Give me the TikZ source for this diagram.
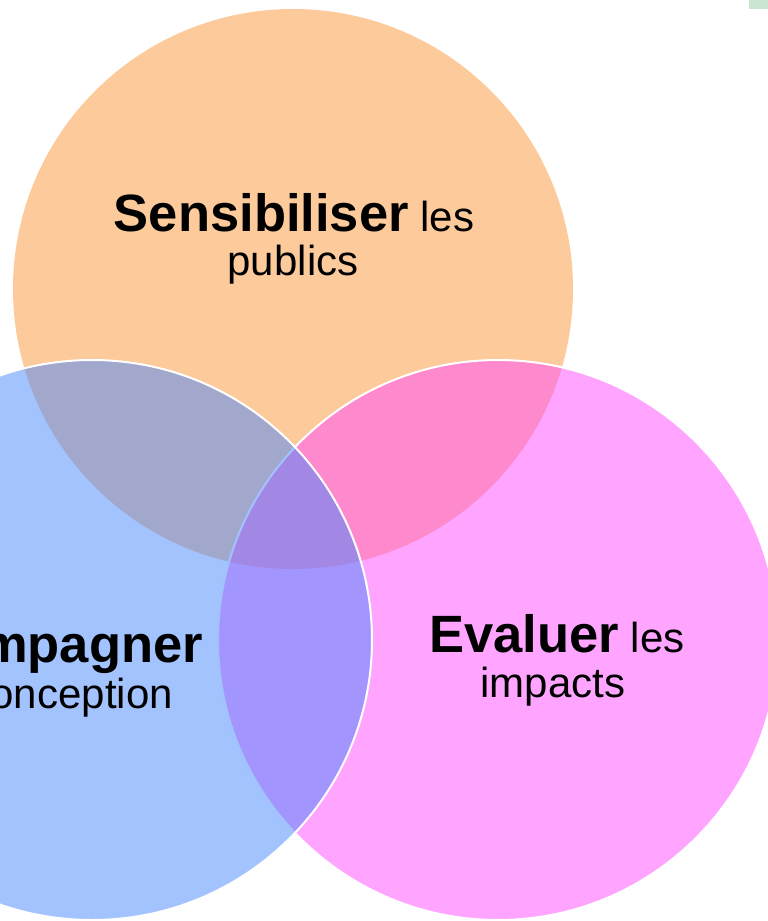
\documentclass[tikz,border=0pt]{standalone}
\usepackage{fontspec}
\setmainfont{Liberation Sans}
\newcommand{\bigtxt}{\fontsize{52.5}{52}\selectfont\bfseries}
\newcommand{\smalltxt}{\fontsize{42}{42}\selectfont}
\begin{document}
\begin{tikzpicture}[x=1pt,y=-1pt,
  disc/.style={draw=white,line width=2pt,fill opacity=0.5},
  bigword/.style={font=\bigtxt,inner sep=0pt,anchor=base},
  smallword/.style={font=\smalltxt,inner sep=0pt,anchor=base},
  mixline/.style={inner sep=0pt,anchor=base}]
\definecolor{peach}{RGB}{253,202,156}
\definecolor{rose}{RGB}{255,73,255}
\definecolor{sky}{RGB}{71,135,253}
\definecolor{mint}{RGB}{200,230,210}
\useasboundingbox (0,0) rectangle (768,921);
\clip (0,0) rectangle (768,921);
% three overlapping discs
\fill[peach] (293,289) circle (280);
\path[disc,fill=rose] (498,640) circle (280);
\path[disc,fill=sky] (92,640) circle (280);
% small tab in the corner
\fill[mint] (749,0) rectangle (768,9);
% labels
\node[mixline] (sens) at (294,231)
  {{\bigtxt Sensibiliser}{\smalltxt\ les}};
\node[smallword] (publics) at (293,275) {publics};
\node[mixline] (eval) at (557,652)
  {{\bigtxt Evaluer}{\smalltxt\ les}};
\node[smallword] (impacts) at (553,697) {impacts};
\node[bigword,anchor=base east] (acc) at (203,662) {Accompagner};
\node[smallword,anchor=base east] (conc) at (173,708) {la conception};
\end{tikzpicture}
\end{document}
